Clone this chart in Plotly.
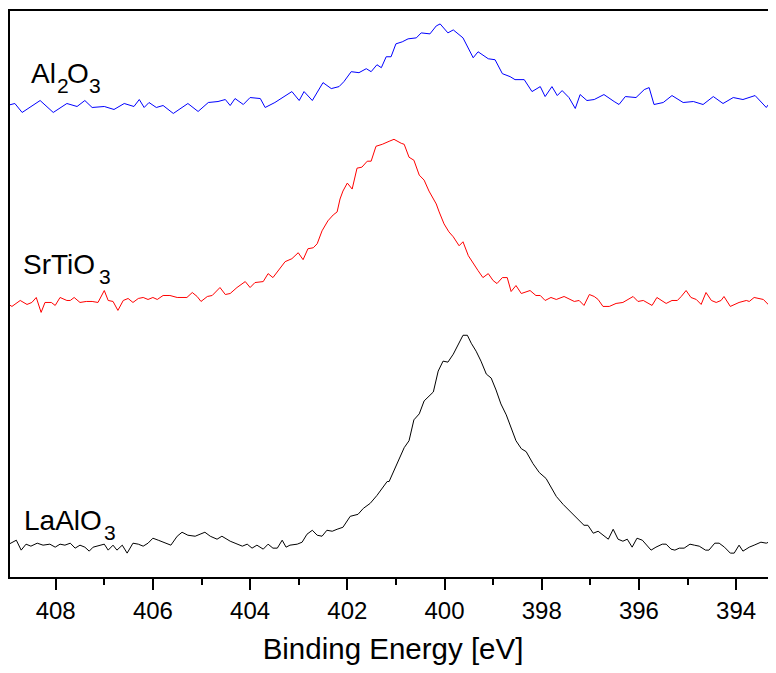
import plotly.graph_objects as go

# ---------------- data (binding energy in eV, intensity in arbitrary units) ----------------
energy_al2o3 = [409.00, 408.84, 408.69, 408.53, 408.32, 408.05, 407.77, 407.56, 407.40, 407.25,
                407.00, 406.80, 406.59, 406.39, 406.28, 406.18, 406.08, 405.93, 405.79, 405.58,
                405.28, 405.07, 404.86, 404.66, 404.51, 404.41, 404.31, 404.14, 404.00, 403.79,
                403.69, 403.49, 403.24, 403.14, 402.99, 402.89, 402.72, 402.50, 402.33, 402.17,
                402.07, 401.92, 401.76, 401.61, 401.51, 401.39, 401.30, 401.20, 401.10, 401.00,
                400.87, 400.75, 400.58, 400.48, 400.30, 400.17, 400.09, 399.93, 399.82, 399.62,
                399.41, 399.31, 399.10, 398.96, 398.81, 398.65, 398.55, 398.36, 398.20, 398.03,
                397.93, 397.79, 397.68, 397.58, 397.44, 397.31, 397.21, 397.07, 396.92, 396.72,
                396.51, 396.41, 396.28, 396.06, 395.89, 395.79, 395.69, 395.50, 395.32, 395.09,
                394.88, 394.68, 394.47, 394.27, 394.06, 393.86, 393.61, 393.38, 393.20]
intensity_al2o3 = [475, 477, 468, 473, 480, 468, 477, 474, 480, 473,
                   474, 471, 477, 474, 481, 473, 478, 473, 475, 467,
                   477, 469, 478, 479, 481, 475, 482, 476, 483, 482,
                   473, 478, 486, 489, 480, 489, 480, 498, 492, 494,
                   499, 509, 508, 512, 509, 516, 513, 524, 524, 537,
                   539, 542, 543, 548, 547, 555, 557, 548, 551, 543,
                   523, 529, 522, 521, 507, 504, 501, 501, 489, 494,
                   484, 494, 485, 490, 483, 472, 486, 480, 481, 486,
                   479, 476, 484, 483, 491, 493, 476, 478, 485, 478,
                   479, 476, 484, 477, 483, 481, 485, 473, 485]

energy_srtio3 = [409.00, 408.90, 408.73, 408.59, 408.49, 408.40, 408.30, 408.22, 408.09, 408.01,
                 407.91, 407.77, 407.70, 407.62, 407.50, 407.37, 407.25, 407.13, 407.00, 406.92,
                 406.82, 406.72, 406.61, 406.51, 406.41, 406.30, 406.20, 406.10, 406.00, 405.91,
                 405.79, 405.65, 405.50, 405.30, 405.19, 405.09, 405.01, 404.88, 404.78, 404.62,
                 404.51, 404.41, 404.27, 404.21, 404.10, 404.00, 403.90, 403.73, 403.63, 403.53,
                 403.38, 403.28, 403.14, 403.01, 402.91, 402.81, 402.70, 402.62, 402.52, 402.40,
                 402.29, 402.21, 402.15, 402.09, 402.00, 401.90, 401.80, 401.70, 401.59, 401.51,
                 401.41, 401.28, 401.14, 401.04, 400.89, 400.83, 400.73, 400.63, 400.52, 400.42,
                 400.32, 400.17, 400.11, 400.01, 399.91, 399.82, 399.70, 399.62, 399.51, 399.41,
                 399.31, 399.21, 399.10, 399.00, 398.92, 398.81, 398.71, 398.63, 398.53, 398.42,
                 398.24, 398.12, 398.03, 397.93, 397.81, 397.70, 397.54, 397.33, 397.23, 397.13,
                 397.02, 396.92, 396.84, 396.74, 396.61, 396.47, 396.33, 396.12, 396.02, 395.91,
                 395.73, 395.63, 395.44, 395.32, 395.21, 395.13, 395.03, 394.93, 394.82, 394.72,
                 394.62, 394.51, 394.41, 394.31, 394.25, 394.12, 393.94, 393.79, 393.73, 393.63,
                 393.44, 393.32, 393.20]
intensity_srtio3 = [276, 273, 279, 275, 277, 282, 267, 277, 277, 274,
                    282, 279, 279, 282, 277, 278, 278, 277, 289, 279,
                    278, 269, 279, 281, 277, 281, 282, 280, 282, 280,
                    284, 284, 282, 282, 287, 283, 278, 283, 284, 292,
                    285, 286, 292, 294, 298, 292, 297, 298, 306, 302,
                    311, 318, 321, 327, 320, 331, 332, 336, 349, 359,
                    365, 368, 381, 389, 397, 391, 412, 413, 419, 419,
                    434, 436, 439, 441, 437, 436, 423, 420, 405, 400,
                    389, 376, 368, 356, 348, 343, 334, 338, 324, 316,
                    309, 302, 306, 299, 296, 302, 302, 288, 294, 286,
                    289, 284, 284, 279, 282, 280, 283, 278, 279, 274,
                    285, 283, 280, 273, 273, 276, 277, 283, 278, 279,
                    274, 282, 276, 279, 279, 283, 289, 282, 280, 275,
                    287, 279, 277, 279, 283, 273, 277, 279, 278, 282,
                    280, 274, 281]

energy_laalo3 = [409.00, 408.90, 408.81, 408.71, 408.61, 408.51, 408.38, 408.26, 408.12, 408.01,
                 407.91, 407.81, 407.70, 407.60, 407.50, 407.40, 407.31, 407.23, 407.09, 407.00,
                 406.92, 406.82, 406.74, 406.63, 406.53, 406.41, 406.30, 406.20, 406.10, 406.00,
                 405.89, 405.75, 405.63, 405.50, 405.40, 405.28, 405.13, 405.03, 404.93, 404.82,
                 404.68, 404.58, 404.41, 404.31, 404.16, 404.06, 403.96, 403.86, 403.73, 403.63,
                 403.53, 403.44, 403.34, 403.26, 403.18, 403.03, 402.93, 402.83, 402.72, 402.62,
                 402.52, 402.42, 402.31, 402.21, 402.09, 401.94, 401.78, 401.67, 401.53, 401.39,
                 401.26, 401.18, 401.14, 401.04, 400.93, 400.83, 400.73, 400.63, 400.52, 400.42,
                 400.23, 400.13, 400.03, 399.93, 399.82, 399.72, 399.62, 399.53, 399.45, 399.35,
                 399.25, 399.14, 399.04, 398.94, 398.84, 398.73, 398.63, 398.53, 398.42, 398.32,
                 398.18, 398.05, 397.91, 397.81, 397.70, 397.56, 397.40, 397.25, 397.13, 397.05,
                 396.94, 396.84, 396.74, 396.63, 396.53, 396.43, 396.33, 396.24, 396.14, 396.04,
                 395.93, 395.83, 395.75, 395.65, 395.52, 395.44, 395.34, 395.26, 395.17, 395.07,
                 394.95, 394.86, 394.76, 394.63, 394.56, 394.44, 394.35, 394.24, 394.12, 394.04,
                 393.94, 393.86, 393.73, 393.63, 393.49, 393.38, 393.24]
intensity_laalo3 = [33, 36, 38, 28, 34, 32, 35, 33, 34, 31,
                    34, 33, 35, 30, 33, 31, 27, 31, 33, 34,
                    28, 33, 28, 33, 25, 35, 34, 32, 35, 40,
                    38, 35, 33, 42, 46, 43, 42, 44, 46, 42,
                    39, 42, 37, 35, 32, 34, 30, 33, 29, 34,
                    30, 30, 38, 31, 33, 34, 36, 44, 48, 43,
                    42, 48, 47, 49, 51, 62, 64, 70, 75, 83,
                    92, 97, 97, 108, 119, 131, 138, 159, 165, 178,
                    187, 208, 218, 217, 225, 234, 244, 244, 236, 228,
                    218, 205, 201, 189, 175, 164, 151, 138, 130, 127,
                    115, 106, 100, 92, 82, 74, 66, 59, 53, 53,
                    45, 47, 43, 39, 49, 39, 37, 39, 31, 40,
                    38, 33, 28, 31, 34, 34, 29, 28, 30, 30,
                    34, 33, 32, 28, 28, 35, 35, 31, 25, 25,
                    33, 27, 31, 33, 36, 35, 38]

x_range = [408.94, 393.18]
y_range = [1, 570]
tick_values = [408, 406, 404, 402, 400, 398, 396, 394]
tick_labels = ["408", "406", "404", "402", "400", "398", "396", "394"]
minor_tick_values = [409, 407, 405, 403, 401, 399, 397, 395, 393]

FONT = "Liberation Sans, Arial, Helvetica, sans-serif"

fig = go.Figure()
fig.add_trace(go.Scatter(x=energy_al2o3, y=intensity_al2o3, mode="lines",
                         line=dict(color="#0000FF", width=1), name="Al2O3"))
fig.add_trace(go.Scatter(x=energy_srtio3, y=intensity_srtio3, mode="lines",
                         line=dict(color="#FF0000", width=1), name="SrTiO3"))
fig.add_trace(go.Scatter(x=energy_laalo3, y=intensity_laalo3, mode="lines",
                         line=dict(color="#000000", width=1), name="LaAlO3"))

# labels: (text, left x paper, bottom y paper, size)
label_parts = [
    ("Al", 0.0248, 0.8594, 28), ("2", 0.0587, 0.8453, 21),
    ("O", 0.0718, 0.8594, 28), ("3", 0.1005, 0.8453, 21),
    ("SrTiO", 0.0143, 0.5220, 28), ("3", 0.1136, 0.5079, 21),
    ("LaAlO", 0.0156, 0.0685, 28), ("3", 0.1201, 0.0545, 21),
]
for txt, xp, yp, sz in label_parts:
    fig.add_annotation(text=txt, x=xp, y=yp, xref="paper", yref="paper",
                       xanchor="left", yanchor="bottom", showarrow=False,
                       font=dict(family=FONT, size=sz, color="black"))

fig.update_layout(
    width=768, height=657,
    margin=dict(l=2, r=0, t=3, b=85, pad=0),
    paper_bgcolor="white", plot_bgcolor="white",
    showlegend=False,
    font=dict(family=FONT, color="black"),
)
fig.update_xaxes(
    range=x_range, tickmode="array", tickvals=tick_values, ticktext=tick_labels,
    ticks="outside", ticklen=11, tickwidth=2, tickcolor="black",
    showline=True, linewidth=2, linecolor="black", mirror=True,
    showgrid=False, zeroline=False,
    tickfont=dict(family=FONT, size=24, color="black"),
    minor=dict(tickvals=minor_tick_values,
               ticks="outside", ticklen=6, tickwidth=2, tickcolor="black", showgrid=False),
    title=dict(text="Binding Energy [eV]", font=dict(family=FONT, size=29.5, color="black"),
               standoff=21),
)
fig.update_yaxes(
    range=y_range, showline=True, linewidth=2, linecolor="black", mirror=False,
    showticklabels=False, ticks="", showgrid=False, zeroline=False,
)

fig.write_html("out.html")
